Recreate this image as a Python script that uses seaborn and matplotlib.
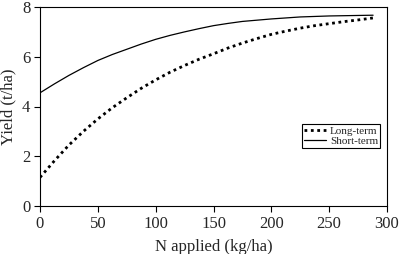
import matplotlib
matplotlib.use("Agg")
import matplotlib.pyplot as plt
import seaborn as sns
import pandas as pd

n_applied = [0, 12.5, 25, 37.5, 50, 62.5, 75, 87.5, 100, 112.5, 125, 137.5, 150,
             162.5, 175, 187.5, 200, 212.5, 225, 237.5, 250, 262.5, 275, 288]
long_term = [1.15, 1.82, 2.45, 3.0, 3.5, 3.95, 4.35, 4.73, 5.07, 5.38, 5.65, 5.9, 6.12,
             6.35, 6.55, 6.73, 6.9, 7.03, 7.15, 7.25, 7.33, 7.41, 7.48, 7.56]
short_term = [4.55, 4.91, 5.25, 5.56, 5.85, 6.09, 6.3, 6.51, 6.7, 6.86, 7.0, 7.13, 7.25,
              7.34, 7.42, 7.47, 7.52, 7.56, 7.6, 7.62, 7.64, 7.65, 7.66, 7.67]
series_names = ["Long-term", "Short-term"]

df = pd.DataFrame({
    "N": n_applied * 2,
    "Yield": long_term + short_term,
    "Series": [series_names[0]] * len(n_applied) + [series_names[1]] * len(n_applied),
})

sns.set_style("ticks")
plt.rcParams["font.family"] = ["Liberation Serif", "DejaVu Serif"]

fig = plt.figure(figsize=(3.99, 2.54), dpi=100)
ax = fig.add_axes([40/399, 1 - 206/254, 347/399, 199/254])

sns.lineplot(data=df[df.Series == "Long-term"], x="N", y="Yield", ax=ax,
             color="black", linewidth=2.0, linestyle=(0, (1, 1.3)), label="Long-term")
sns.lineplot(data=df[df.Series == "Short-term"], x="N", y="Yield", ax=ax,
             color="black", linewidth=0.9, label="Short-term")

ax.set_xlim(0, 300)
ax.set_ylim(0, 8)
ax.set_xticks([0, 50, 100, 150, 200, 250, 300])
ax.set_yticks([0, 2, 4, 6, 8])
ax.tick_params(labelsize=12, length=4, width=0.8, direction="out", color="black", pad=3)
for s in ax.spines.values():
    s.set_color("black")
    s.set_linewidth(0.8)
ax.set_xlabel("N applied (kg/ha)", fontsize=12, labelpad=5)
ax.set_ylabel("Yield (t/ha)", fontsize=12, labelpad=4)

leg = ax.legend(loc="lower left", bbox_to_anchor=(0.755, 0.29), fontsize=8,
                frameon=True, fancybox=False, edgecolor="black", framealpha=1,
                handlelength=2.0, handletextpad=0.3, borderpad=0.2, labelspacing=0.05,
                borderaxespad=0)
leg.get_frame().set_linewidth(0.8)

fig.savefig("out.png", dpi=100)
